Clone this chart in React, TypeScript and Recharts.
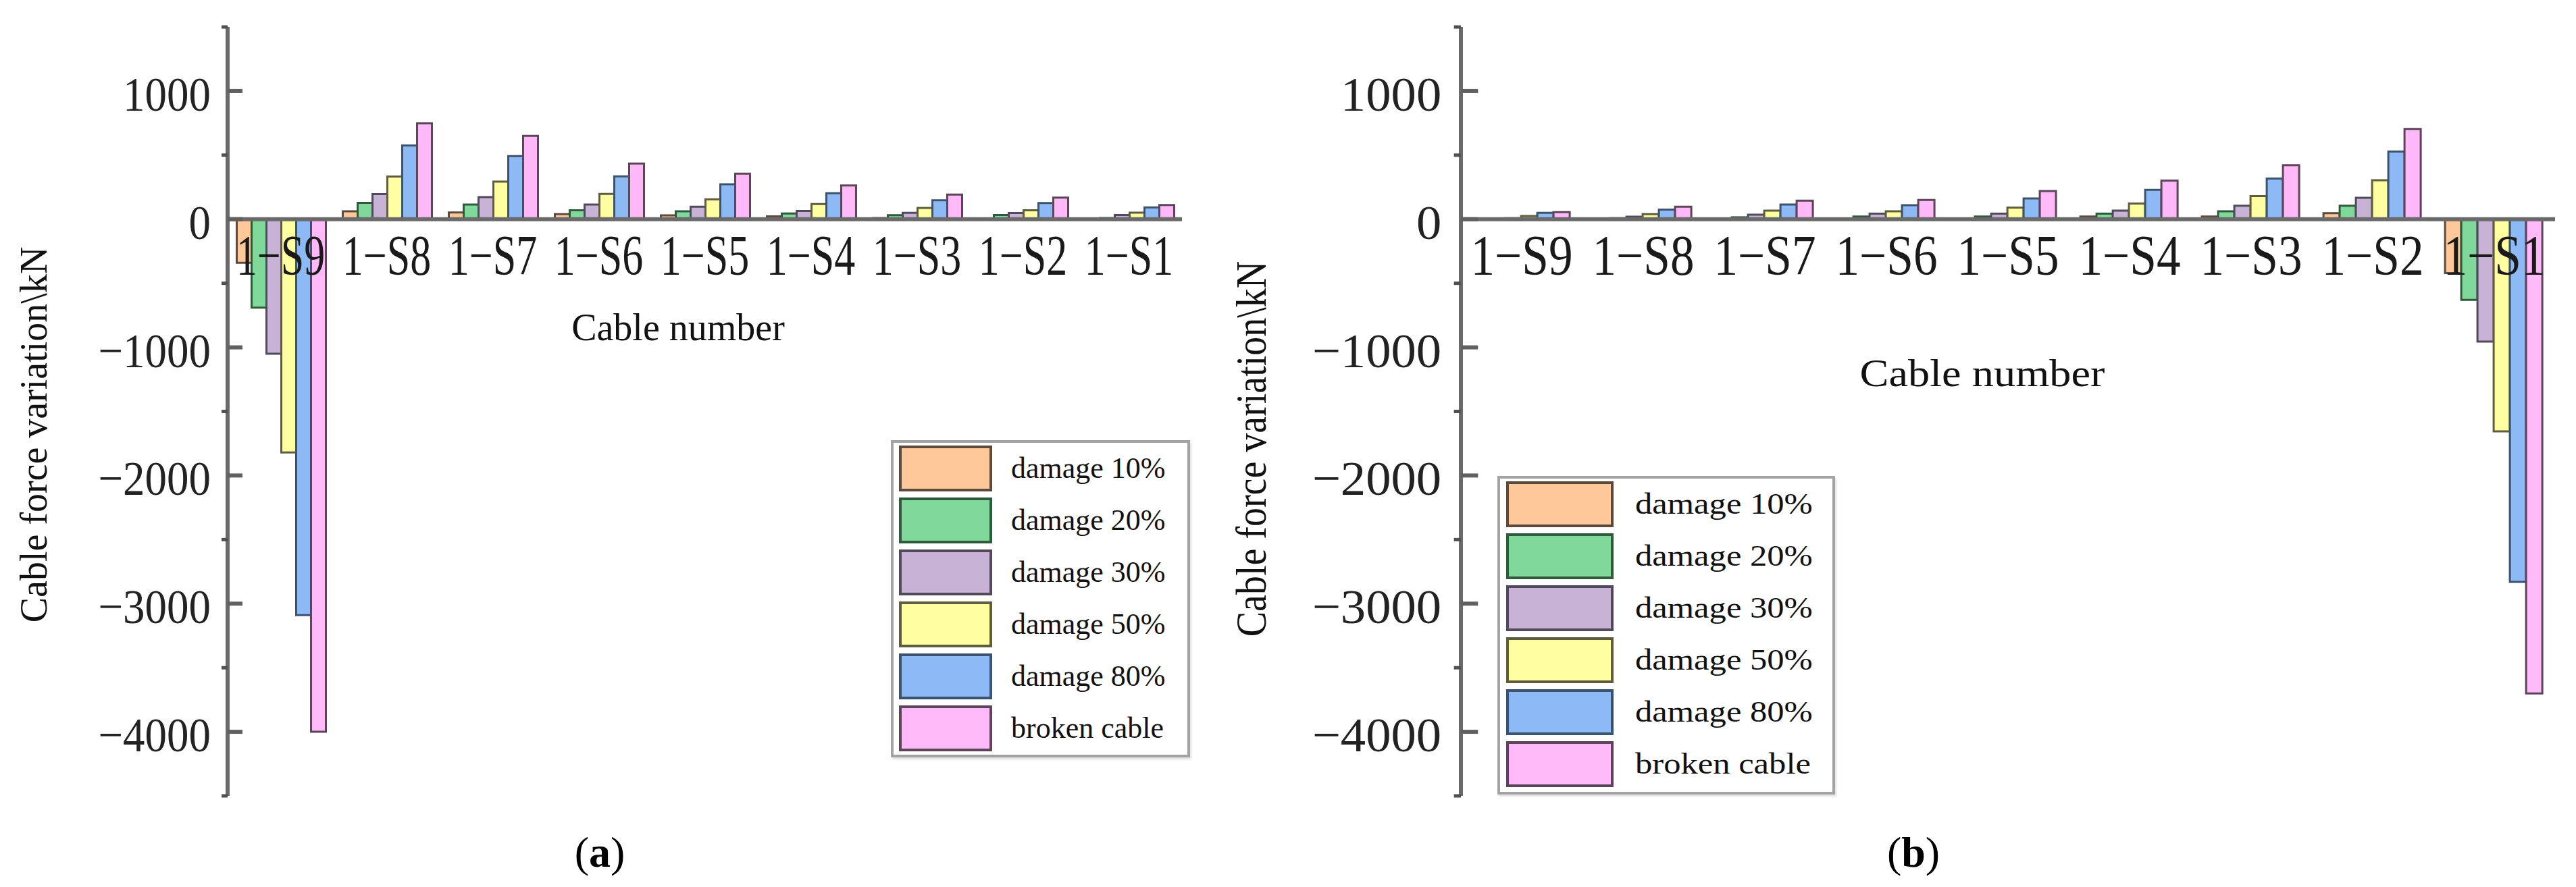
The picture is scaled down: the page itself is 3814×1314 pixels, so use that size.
import React from "react";
import { BarChart, Bar, XAxis, YAxis, ReferenceLine, Legend } from "recharts";

// ---------- data ----------
const categories = ["1\u2212S9", "1\u2212S8", "1\u2212S7", "1\u2212S6", "1\u2212S5", "1\u2212S4", "1\u2212S3", "1\u2212S2", "1\u2212S1"];

const seriesNames = ["damage 10%", "damage 20%", "damage 30%", "damage 50%", "damage 80%", "broken cable"];
const seriesKeys = ["d10", "d20", "d30", "d50", "d80", "broken"];
const seriesFills = ["#FFC899", "#80D99B", "#C8B3D7", "#FFFEA0", "#8DBAF5", "#FFB8F8"];
const seriesStrokes = ["#5c4a3e", "#2f5a3c", "#514a5c", "#5e5d3e", "#3c536f", "#5c4558"];

// panel (a)
const d10A = [-340, 62, 53, 40, 30, 22, 9, 6, 3];
const d20A = [-690, 128, 114, 70, 62, 45, 32, 33, 9];
const d30A = [-1050, 196, 172, 114, 97, 65, 50, 49, 33];
const d50A = [-1820, 333, 294, 197, 155, 118, 88, 70, 52];
const d80A = [-3090, 575, 493, 334, 273, 203, 148, 126, 92];
const brokenA = [-4000, 748, 651, 434, 355, 263, 192, 169, 111];

// panel (b)
const d10B = [1, 2, 3, 2, 3, 21, 21, 47, -420];
const d20B = [3, 8, 15, 21, 21, 44, 62, 105, -630];
const d30B = [8, 20, 35, 44, 44, 67, 105, 167, -955];
const d50B = [25, 40, 67, 62, 91, 123, 180, 304, -1655];
const d80B = [50, 75, 114, 109, 162, 229, 317, 528, -2830];
const brokenB = [55, 97, 145, 150, 220, 302, 422, 703, -3700];

const yTicks = [-4500, -4000, -3500, -3000, -2500, -2000, -1500, -1000, -500, 0, 500, 1000, 1500];
const Y_MIN = -4500;
const Y_MAX = 1500;

function buildRows(cols: number[][]) {
  return categories.map((c, i) => {
    const row: any = { cat: c };
    seriesKeys.forEach((k, j) => {
      row[k] = cols[j][i];
    });
    return row;
  });
}

const rowsA = buildRows([d10A, d20A, d30A, d50A, d80A, brokenA]);
const rowsB = buildRows([d10B, d20B, d30B, d50B, d80B, brokenB]);

// ---------- layout ----------
const PAGE_W = 3814;
const PAGE_H = 1314;
const PLOT_TOP = 40;
const PLOT_BOTTOM = 1179;
const X_AXIS_H = 30;
const Y_AXIS_W = 60;
const ZERO_Y = PLOT_TOP + (Y_MAX / (Y_MAX - Y_MIN)) * (PLOT_BOTTOM - PLOT_TOP);
const SERIF = '"Liberation Serif", "Times New Roman", serif';

type PanelCfg = {
  rows: any[];
  left: number;
  width: number;
  plotLeft: number;
  plotRight: number;
  sx: number;
  gap: string;
  legend: { left: number; top: number; w: number; h: number };
  yTitle: { x: number; y: number };
  xTitle: { x: number; y: number };
};

const YTick = (props: any) => {
  const { x, y, payload, sx } = props;
  const v = payload.value;
  const major = v % 1000 === 0;
  if (!major) {
    return <line x1={x - 9 * sx} x2={x} y1={y} y2={y} stroke="#505050" strokeWidth={5} />;
  }
  const label = v < 0 ? "\u2212" + Math.abs(v) : String(v);
  return (
    <g>
      <line x1={x} x2={x + 22 * sx} y1={y} y2={y} stroke="#606060" strokeWidth={6} />
      <text
        transform={`translate(${x - 25 * sx}, ${y + 29}) scale(${sx}, 1.12)`}
        textAnchor="end"
        fontFamily={SERIF}
        fontSize={65}
        fill="#222"
      >
        {label}
      </text>
    </g>
  );
};

const CatTick = (props: any) => {
  const { x, payload, sx } = props;
  return (
    <text
      transform={`translate(${x}, ${ZERO_Y + 82}) scale(${sx}, 1.38)`}
      textAnchor="middle"
      fontFamily={SERIF}
      fontSize={62}
      fill="#1a1a1a"
    >
      {payload.value}
    </text>
  );
};

const LegendBox = ({ sx, w, h }: { sx: number; w: number; h: number }) => (
  <div
    style={{
      position: "relative",
      width: w,
      height: h,
      boxSizing: "border-box",
      border: "4px solid #a3a3a3",
      background: "#fff",
      boxShadow: "2px 3px 3px rgba(0,0,0,0.12)",
    }}
  >
    {seriesNames.map((name, i) => (
      <React.Fragment key={name}>
        <div
          style={{
            position: "absolute",
            left: 8 * sx,
            top: 4 + 77 * i,
            width: 138 * sx,
            height: 68,
            boxSizing: "border-box",
            background: seriesFills[i],
            border: `4px solid ${seriesStrokes[i]}`,
          }}
        />
        <div
          style={{
            position: "absolute",
            left: 174 * sx,
            top: 4 + 77 * i,
            height: 68,
            lineHeight: "68px",
            fontFamily: SERIF,
            fontSize: 44,
            color: "#111",
            whiteSpace: "nowrap",
            transform: `scaleX(${sx})`,
            transformOrigin: "left center",
          }}
        >
          {name}
        </div>
      </React.Fragment>
    ))}
  </div>
);

const Panel = ({ cfg }: { cfg: PanelCfg }) => {
  const { sx } = cfg;
  const localPlotLeft = cfg.plotLeft - cfg.left;
  const localPlotRight = cfg.plotRight - cfg.left;
  const yt = { x: cfg.yTitle.x - cfg.left, y: cfg.yTitle.y };
  const xt = { x: cfg.xTitle.x - cfg.left, y: cfg.xTitle.y };
  return (
    <div style={{ position: "absolute", left: cfg.left, top: 0, width: cfg.width, height: PAGE_H }}>
      <BarChart
        width={cfg.width}
        height={PAGE_H}
        data={cfg.rows}
        barCategoryGap={cfg.gap}
        barGap={0}
        margin={{
          top: PLOT_TOP,
          bottom: PAGE_H - PLOT_BOTTOM - X_AXIS_H,
          left: localPlotLeft - Y_AXIS_W,
          right: cfg.width - localPlotRight,
        }}
      >
        {seriesKeys.map((k, i) => (
          <Bar
            key={k}
            dataKey={k}
            name={seriesNames[i]}
            fill={seriesFills[i]}
            stroke={seriesStrokes[i]}
            strokeWidth={3}
            isAnimationActive={false}
          />
        ))}
        <ReferenceLine y={0} stroke="#6a6a6a" strokeWidth={6} />
        <YAxis
          type="number"
          domain={[Y_MIN, Y_MAX]}
          ticks={yTicks}
          interval={0}
          width={Y_AXIS_W}
          tickSize={0}
          tickMargin={0}
          tickLine={false}
          axisLine={{ stroke: "#6a6a6a", strokeWidth: 6 }}
          tick={(p: any) => <YTick {...p} sx={sx} />}
          label={{
            content: () => (
              <text
                transform={`translate(${yt.x}, ${yt.y}) scale(${sx}, 1) rotate(-90)`}
                textAnchor="middle"
                dominantBaseline="central"
                fontFamily={SERIF}
                fontSize={56}
                fill="#111"
              >
                Cable force variation\kN
              </text>
            ),
          }}
        />
        <XAxis
          dataKey="cat"
          type="category"
          height={X_AXIS_H}
          interval={0}
          tickSize={0}
          tickMargin={0}
          tickLine={false}
          axisLine={false}
          tick={(p: any) => <CatTick {...p} sx={sx} />}
          label={{
            content: () => (
              <text
                transform={`translate(${xt.x}, ${xt.y}) scale(${sx}, 1)`}
                textAnchor="middle"
                fontFamily={SERIF}
                fontSize={56}
                fill="#111"
              >
                Cable number
              </text>
            ),
          }}
        />
        <Legend
          layout="vertical"
          align="center"
          verticalAlign="middle"
          width={cfg.legend.w}
          height={cfg.legend.h}
          wrapperStyle={{
            left: cfg.legend.left - cfg.left,
            top: cfg.legend.top,
            width: cfg.legend.w,
            height: cfg.legend.h,
          }}
          content={() => <LegendBox sx={sx} w={cfg.legend.w} h={cfg.legend.h} />}
        />
      </BarChart>
    </div>
  );
};

const panelA: PanelCfg = {
  rows: rowsA,
  left: 0,
  width: 1800,
  plotLeft: 337,
  plotRight: 1750,
  sx: 1,
  gap: "8.6%",
  legend: { left: 1319, top: 652, w: 443, h: 470 },
  yTitle: { x: 50, y: 644 },
  xTitle: { x: 1004, y: 504 },
};

const panelB: PanelCfg = {
  rows: rowsB,
  left: 1700,
  width: 2114,
  plotLeft: 2163,
  plotRight: 3783,
  sx: 1.15,
  gap: "9.5%",
  legend: { left: 2217, top: 705, w: 500, h: 472 },
  yTitle: { x: 1852, y: 665 },
  xTitle: { x: 2935, y: 572 },
};

const SubLabel = ({ x, letter }: { x: number; letter: string }) => (
  <div
    style={{
      position: "absolute",
      left: x,
      top: 1231,
      transform: "translateX(-50%)",
      fontFamily: SERIF,
      fontSize: 64,
      lineHeight: "64px",
      color: "#000",
      whiteSpace: "nowrap",
    }}
  >
    (<b>{letter}</b>)
  </div>
);

export default function App() {
  return (
    <div
      style={{
        position: "absolute",
        left: 0,
        top: 0,
        width: PAGE_W,
        height: PAGE_H,
        background: "#fff",
        overflow: "hidden",
      }}
    >
      <Panel cfg={panelA} />
      <Panel cfg={panelB} />
      <SubLabel x={888} letter="a" />
      <SubLabel x={2833} letter="b" />
    </div>
  );
}
